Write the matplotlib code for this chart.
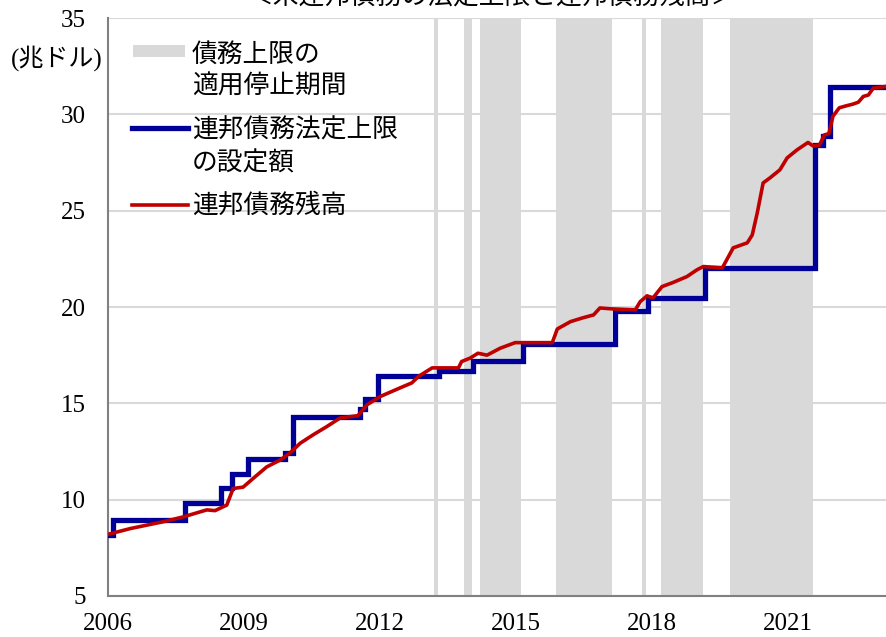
import matplotlib
matplotlib.use('Agg')
import matplotlib.pyplot as plt
from matplotlib.patches import Rectangle
from matplotlib.lines import Line2D

plt.rcParams['font.family'] = ['Liberation Serif', 'Noto Sans CJK JP']

# debt ceiling suspension periods (decimal years)
band_start = [2013.19, 2013.86, 2014.21, 2015.88, 2017.78, 2018.20, 2019.71]
band_end = [2013.27, 2014.03, 2015.10, 2017.12, 2017.86, 2019.13, 2021.54]

# statutory debt limit (step changes), trillion dollars
limit_t = [2006.0, 2006.12, 2007.70, 2008.50, 2008.73, 2009.09, 2009.90, 2010.07,
           2011.56, 2011.66, 2011.96, 2013.30, 2014.06, 2015.15, 2017.18, 2017.91,
           2019.17, 2021.60, 2021.77, 2021.92, 2023.20]
limit_v = [8.18, 8.97, 9.82, 10.62, 11.32, 12.10, 12.40, 14.30,
           14.70, 15.20, 16.40, 16.70, 17.20, 18.10, 19.80, 20.45,
           22.00, 28.40, 28.90, 31.40, 31.40]

# federal debt outstanding, trillion dollars
debt_t = [2006.0, 2006.49, 2007.21, 2007.65, 2008.18, 2008.36, 2008.62, 2008.76,
          2008.98, 2009.20, 2009.50, 2009.80, 2010.01, 2010.24, 2010.52, 2010.83,
          2011.12, 2011.51, 2011.71, 2012.0, 2012.44, 2012.70, 2012.85, 2013.15,
          2013.73, 2013.80, 2013.99, 2014.16, 2014.36, 2014.65, 2014.98, 2015.80,
          2015.91, 2016.20, 2016.46, 2016.71, 2016.85, 2017.14, 2017.63, 2017.74,
          2017.89, 2018.02, 2018.22, 2018.46, 2018.77, 2018.99, 2019.13, 2019.55,
          2019.79, 2020.10, 2020.21, 2020.32, 2020.45, 2020.60, 2020.82, 2020.98,
          2021.20, 2021.44, 2021.55, 2021.69, 2021.80, 2021.90, 2021.99, 2022.13,
          2022.28, 2022.43, 2022.55, 2022.66, 2022.77, 2022.88, 2023.16]
debt_v = [8.20, 8.50, 8.85, 9.10, 9.47, 9.43, 9.72, 10.58,
          10.65, 11.10, 11.70, 12.06, 12.42, 12.93, 13.36, 13.80,
          14.24, 14.36, 14.92, 15.35, 15.80, 16.06, 16.40, 16.84,
          16.84, 17.17, 17.35, 17.60, 17.50, 17.86, 18.15, 18.15,
          18.86, 19.24, 19.43, 19.59, 19.95, 19.90, 19.85, 20.28,
          20.58, 20.47, 21.06, 21.27, 21.58, 21.93, 22.10, 22.03,
          23.07, 23.33, 23.74, 24.88, 26.44, 26.70, 27.12, 27.74,
          28.16, 28.54, 28.36, 28.40, 28.93, 29.00, 29.90, 30.34,
          30.44, 30.53, 30.63, 30.93, 31.00, 31.36, 31.45]

x_ticks = [2006, 2009, 2012, 2015, 2018, 2021]
y_ticks = [5, 10, 15, 20, 25, 30, 35]

W, H = 886, 637
fig = plt.figure(figsize=(W / 100, H / 100), dpi=100)
ax = fig.add_axes([108 / W, 1 - 596 / H, 1 - 108 / W, (596 - 18) / H])

grey = '#d9d9d9'
for s, e in zip(band_start, band_end):
    ax.axvspan(s, e, color=grey, lw=0, zorder=1)

ax.plot(limit_t, limit_v, drawstyle='steps-post', color='#000099', lw=3.8,
        solid_joinstyle='miter', zorder=3)
ax.plot(debt_t, debt_v, color='#c00000', lw=2.6, solid_joinstyle='round', zorder=4)

ax.set_xlim(2006, 2023.16)
ax.set_ylim(5, 35)
ax.set_xticks(x_ticks)
ax.set_yticks(y_ticks)
ax.tick_params(length=0, labelsize=18, colors='black')
ax.tick_params(axis='y', pad=16)
ax.tick_params(axis='x', pad=12)
ax.yaxis.grid(True, color=grey, lw=1.5)
ax.set_axisbelow(True)
for side in ['top', 'right']:
    ax.spines[side].set_visible(False)
for side in ['left', 'bottom']:
    ax.spines[side].set_color('#808080')
    ax.spines[side].set_linewidth(1.5)

# unit label and title (the title sits partly above the top edge, as in the source)
fig.text(57 / W, 1 - 58 / H, '(兆ドル)', fontsize=18, ha='center', va='center')
fig.text(492 / W, 1 + 4 / H, '＜米連邦債務の法定上限と連邦債務残高＞', fontsize=18.5,
         ha='center', va='center')

# legend drawn by hand so each key sits next to the first line of its label
def fx(px):
    return px / W

def fy(py):
    return 1 - py / H

fig.patches.append(Rectangle((fx(133), fy(57)), fx(185) - fx(133), fy(45) - fy(57),
                             transform=fig.transFigure, color=grey, lw=0))
fig.lines.append(Line2D([fx(132), fx(188)], [fy(128), fy(128)], transform=fig.transFigure,
                        color='#000099', lw=3.8))
fig.lines.append(Line2D([fx(132), fx(188)], [fy(205), fy(205)], transform=fig.transFigure,
                        color='#c00000', lw=2.6))
legend_lines = [('債務上限の', 55), ('適用停止期間', 87), ('連邦債務法定上限', 130),
                ('の設定額', 163), ('連邦債務残高', 205)]
for txt, py in legend_lines:
    fig.text(fx(192), fy(py), txt, fontsize=18.5, ha='left', va='center')

fig.savefig('out.png', dpi=100)
plt.close('all')
